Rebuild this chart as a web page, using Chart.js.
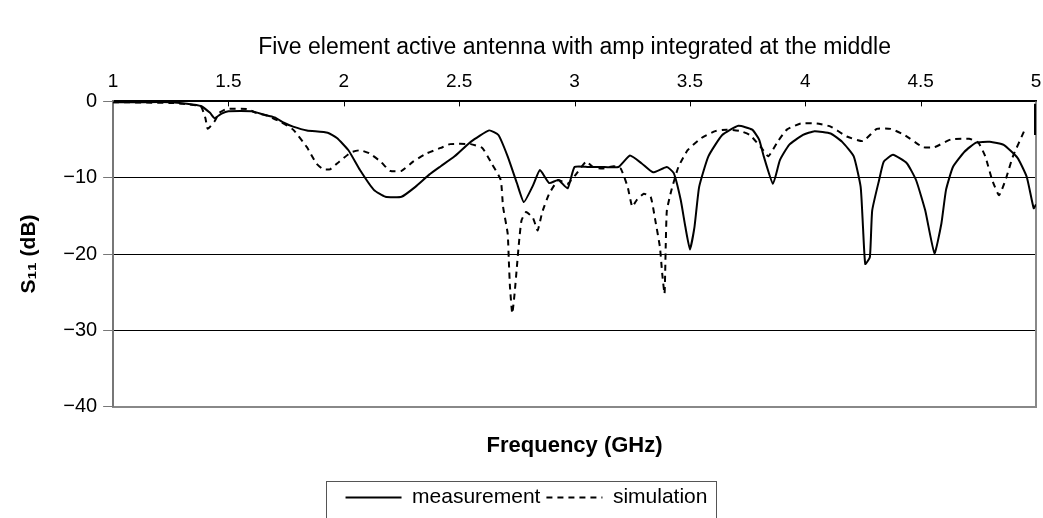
<!DOCTYPE html>
<html>
<head>
<meta charset="utf-8">
<script src="https://cdn.jsdelivr.net/npm/chart.js@4/dist/chart.umd.min.js"></script>
<style>
  html, body { margin: 0; padding: 0; background: #fff; }
  #wrap { width: 1043px; height: 518px; }
</style>
</head>
<body>
<div id="wrap"><canvas id="s11Chart"></canvas></div>
<script>
const measFreq = [1.00, 1.10, 1.25, 1.32, 1.38, 1.42, 1.44, 1.47, 1.50, 1.60, 1.65, 1.70, 1.74, 1.78, 1.84, 1.93, 1.97, 2.02, 2.07, 2.13,
  2.18, 2.25, 2.31, 2.37, 2.42, 2.48, 2.55, 2.63, 2.67, 2.71, 2.75, 2.78, 2.82, 2.85, 2.89, 2.93, 2.97, 3.00, 3.06, 3.13,
  3.19, 3.24, 3.29, 3.34, 3.40, 3.43, 3.46, 3.48, 3.50, 3.52, 3.54, 3.58, 3.64, 3.71, 3.77, 3.80, 3.82, 3.86, 3.89, 3.93,
  3.99, 4.04, 4.11, 4.16, 4.21, 4.24, 4.25, 4.26, 4.28, 4.29, 4.32, 4.34, 4.38, 4.44, 4.48, 4.52, 4.56, 4.59, 4.61, 4.64,
  4.69, 4.74, 4.80, 4.86, 4.92, 4.96, 4.99, 5.00];
const measS11 = [-0.1, -0.1, -0.1, -0.3, -0.6, -1.5, -2.2, -1.6, -1.3, -1.3, -1.7, -2.1, -2.8, -3.3, -3.8, -4.1, -4.8, -6.4, -9.0, -11.6,
  -12.5, -12.5, -11.2, -9.6, -8.5, -7.2, -5.3, -3.8, -4.4, -7.2, -10.7, -13.2, -11.0, -9.0, -10.7, -10.3, -11.4, -8.6, -8.6, -8.6,
  -8.6, -7.1, -8.1, -9.3, -8.6, -9.4, -12.9, -16.4, -19.4, -16.4, -11.2, -7.2, -4.4, -3.2, -3.7, -5.0, -7.2, -10.8, -7.7, -5.7,
  -4.4, -3.9, -4.2, -5.3, -7.2, -11.2, -16.4, -21.3, -20.4, -14.3, -10.3, -7.9, -7.0, -8.1, -10.3, -14.3, -19.9, -16.0, -11.6, -8.6,
  -6.6, -5.4, -5.3, -5.7, -7.4, -9.9, -14.0, -13.5];

// simulated S11
const simFreq = [1.00, 1.25, 1.30, 1.38, 1.40, 1.41, 1.44, 1.46, 1.49, 1.58, 1.62, 1.67, 1.72, 1.78, 1.84, 1.88, 1.91, 1.94, 1.98, 2.03,
  2.07, 2.11, 2.16, 2.20, 2.25, 2.30, 2.36, 2.42, 2.46, 2.55, 2.60, 2.64, 2.68, 2.69, 2.71, 2.715, 2.72, 2.73, 2.74, 2.75,
  2.76, 2.77, 2.79, 2.82, 2.84, 2.86, 2.89, 2.93, 2.97, 3.01, 3.05, 3.08, 3.12, 3.17, 3.20, 3.23, 3.25, 3.27, 3.30, 3.33,
  3.35, 3.37, 3.38, 3.39, 3.395, 3.40, 3.42, 3.45, 3.49, 3.55, 3.61, 3.66, 3.72, 3.76, 3.81, 3.84, 3.88, 3.92, 3.98, 4.05,
  4.11, 4.18, 4.25, 4.31, 4.37, 4.43, 4.51, 4.56, 4.63, 4.71, 4.75, 4.78, 4.81, 4.84, 4.87, 4.90, 4.95];
const simS11 = [-0.1, -0.2, -0.3, -0.65, -2.2, -3.6, -2.6, -1.5, -1.0, -1.0, -1.5, -1.9, -2.6, -3.7, -6.0, -8.1, -8.9, -8.9, -7.9, -6.7,
  -6.4, -6.8, -7.9, -9.1, -9.1, -7.9, -6.8, -6.1, -5.6, -5.6, -6.1, -8.1, -10.3, -13.8, -17.3, -20.8, -24.3, -27.8, -25.2, -21.7,
  -18.2, -15.6, -14.5, -15.3, -16.9, -14.5, -12.1, -10.3, -10.8, -9.4, -7.9, -8.6, -8.8, -8.5, -8.8, -11.2, -13.8, -12.9, -12.1, -12.5,
  -15.6, -19.1, -22.6, -25.2, -19.1, -14.3, -11.6, -8.6, -6.4, -4.8, -3.9, -3.7, -3.9, -4.4, -6.1, -7.2, -5.3, -3.7, -2.9, -2.9,
  -3.3, -4.6, -5.2, -3.6, -3.6, -4.4, -6.0, -6.0, -5.0, -4.9, -5.4, -7.2, -10.3, -12.3, -10.1, -7.2, -3.8];

// short heavy segment on the right edge of the plot at 5 GHz
const edgeFreq = [5.0, 5.0];
const edgeS11 = [-0.3, -4.4];

const freqTicks = [1, 1.5, 2, 2.5, 3, 3.5, 4, 4.5, 5];
const s11Ticks = [0, -10, -20, -30, -40];

const toPoints = (xs, ys) => xs.map((x, i) => ({ x: x, y: ys[i] }));

const FONT = "'Liberation Sans', Arial, sans-serif";

// right frame line, inward tick marks on the top axis, box around the legend
const extras = {
  id: 'extras',
  beforeDatasetsDraw(chart) {
    const ctx = chart.ctx;
    const a = chart.chartArea;
    ctx.save();
    ctx.strokeStyle = '#888';
    ctx.lineWidth = 2;
    ctx.beginPath();
    ctx.moveTo(a.right, a.top);
    ctx.lineTo(a.right, a.bottom + 1);
    ctx.stroke();
    ctx.restore();
  },
  afterDraw(chart) {
    const ctx = chart.ctx;
    ctx.save();
    const xs = chart.scales.x;
    const top = chart.chartArea.top;
    ctx.strokeStyle = '#000';
    ctx.lineWidth = 1;
    freqTicks.slice(1, -1).forEach(v => {
      const px = Math.round(xs.getPixelForValue(v)) + 0.5;
      ctx.beginPath();
      ctx.moveTo(px, top);
      ctx.lineTo(px, top + 5);
      ctx.stroke();
    });

    const boxes = chart.legend && chart.legend.legendHitBoxes;
    if (boxes && boxes.length) {
      let l = Infinity, r = -Infinity, t = Infinity;
      boxes.forEach(h => {
        l = Math.min(l, h.left); r = Math.max(r, h.left + h.width);
        t = Math.min(t, h.top);
      });
      ctx.strokeStyle = '#555';
      ctx.strokeRect(Math.round(l - 20) + 0.5, Math.round(t - 6) + 0.5, Math.round(r - l + 28), 60);
    }
    ctx.restore();
  }
};

const data = {
  datasets: [{
    label: 'measurement',
    data: toPoints(measFreq, measS11),
    borderColor: '#000',
    backgroundColor: '#000',
    borderWidth: 2,
    pointRadius: 0,
    tension: 0.15
  }, {
    label: 'simulation',
    data: toPoints(simFreq, simS11),
    borderColor: '#000',
    backgroundColor: '#000',
    borderWidth: 2,
    borderDash: [6, 5],
    pointRadius: 0,
    tension: 0.15
  }, {
    label: 'edge',
    data: toPoints(edgeFreq, edgeS11),
    borderColor: '#000',
    borderWidth: 4,
    pointRadius: 0
  }]
};

const config = {
  type: 'line',
  data: data,
  options: {
    responsive: true,
    maintainAspectRatio: false,
    animation: false,
    layout: { autoPadding: false, padding: { left: 17, right: 7, top: 0, bottom: 0 } },
    scales: {
      x: {
        type: 'linear',
        position: 'top',
        min: 1,
        max: 5,
        afterBuildTicks: axis => { axis.ticks = freqTicks.map(v => ({ value: v })); },
        afterFit: axis => { axis.paddingLeft = 0; axis.paddingRight = 0; },
        ticks: {
          color: '#000',
          font: { family: FONT, size: 19 },
          padding: 8,
          maxRotation: 0,
          callback: v => String(v)
        },
        grid: { display: true, drawOnChartArea: false, drawTicks: false },
        border: { display: true, color: '#000', width: 2 }
      },
      xb: {
        type: 'linear',
        position: 'bottom',
        min: 1,
        max: 5,
        ticks: { display: false },
        grid: { display: false },
        border: { display: true, color: '#888', width: 2 },
        title: {
          display: true,
          text: 'Frequency (GHz)',
          color: '#000',
          font: { family: FONT, size: 22, weight: 'bold' },
          padding: { top: 18, bottom: 22 }
        }
      },
      y: {
        min: -40,
        max: 0,
        afterBuildTicks: axis => { axis.ticks = s11Ticks.map(v => ({ value: v })); },
        ticks: {
          color: '#000',
          font: { family: FONT, size: 20 },
          padding: 6,
          callback: v => v === 0 ? '0' : '\u2212' + Math.abs(v)
        },
        grid: {
          color: ctx => (ctx.tick && (ctx.tick.value === 0 || ctx.tick.value === -40)) ? 'rgba(0,0,0,0)' : '#000',
          tickColor: '#777',
          tickLength: 10,
          lineWidth: 1
        },
        border: { display: true, color: '#777', width: 2 },
        title: {
          display: true,
          text: 'S\u2081\u2081 (dB)',
          color: '#000',
          font: { family: FONT, size: 21, weight: 'bold' },
          padding: { top: 0, bottom: 15 }
        }
      }
    },
    plugins: {
      title: {
        display: true,
        fullSize: false,
        text: 'Five element active antenna with amp integrated at the middle',
        color: '#000',
        font: { family: FONT, size: 23, weight: 'normal' },
        padding: { top: 34, bottom: 1 }
      },
      legend: {
        position: 'bottom',
        labels: {
          color: '#000',
          font: { family: FONT, size: 21 },
          usePointStyle: true,
          pointStyle: 'line',
          pointStyleWidth: 56,
          boxHeight: 8,
          padding: 6,
          generateLabels: chart => chart.data.datasets.slice(0, 2).map((ds, i) => ({
            text: ds.label,
            datasetIndex: i,
            fillStyle: '#000',
            strokeStyle: '#000',
            fontColor: '#000',
            lineWidth: 2,
            lineDash: ds.borderDash || [],
            pointStyle: 'line',
            hidden: false
          }))
        }
      },
      tooltip: { enabled: false }
    }
  },
  plugins: [extras]
};

const ctx = document.getElementById('s11Chart').getContext('2d');
const s11Chart = new Chart(ctx, config);
</script>
</body>
</html>
